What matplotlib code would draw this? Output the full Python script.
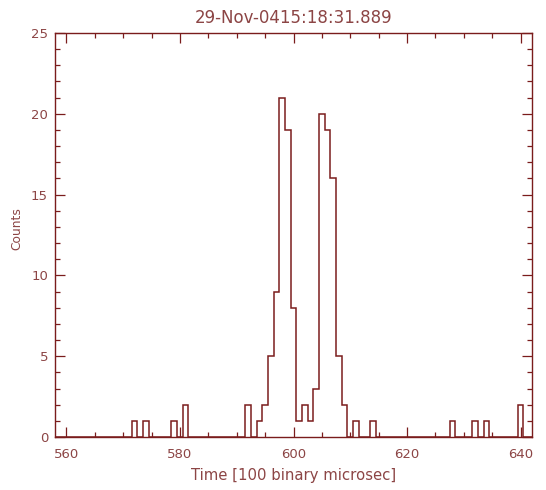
import numpy as np
import matplotlib
matplotlib.use("Agg")
import matplotlib.pyplot as plt
from matplotlib.ticker import MultipleLocator

# Histogram bins (centre of each 1-unit bin) that hold at least one count
time_bins = [572, 574, 579, 581, 592, 594, 595, 596, 597, 598, 599, 600,
             601, 602, 603, 604, 605, 606, 607, 608, 609, 611, 614, 628,
             632, 634, 640]
counts = [1, 1, 1, 2, 2, 1, 2, 5, 9, 21, 19, 8,
          1, 2, 1, 3, 20, 19, 16, 5, 2, 1, 1, 1,
          1, 1, 2]

x_range = (558, 642)
y_range = (0, 25)
x_ticks = [560, 580, 600, 620, 640]
y_ticks = [0, 5, 10, 15, 20, 25]
title = "29-Nov-0415:18:31.889"
x_label = "Time [100 binary microsec]"
y_label = "Counts"

line_color = "#7a1c1c"
text_color = "#8c4545"

plt.rcParams["font.family"] = ["DejaVu Sans"]

# Full histogram over the plotted range, one bin per time unit
centres = np.arange(x_range[0], x_range[1] + 1)
hist = np.zeros(len(centres))
for t, c in zip(time_bins, counts):
    hist[t - x_range[0]] = c
edges = np.append(centres - 0.5, centres[-1] + 0.5)

fig = plt.figure(figsize=(5.46, 4.90), dpi=100)
ax = fig.add_axes([55 / 546, 1 - 437 / 490, (532 - 55) / 546, (437 - 33) / 490])

ax.stairs(hist, edges, color=line_color, linewidth=1.1, baseline=None)

ax.set_xlim(*x_range)
ax.set_ylim(*y_range)
ax.set_xticks(x_ticks)
ax.set_yticks(y_ticks)
ax.xaxis.set_minor_locator(MultipleLocator(5))
ax.yaxis.set_minor_locator(MultipleLocator(1))

for side in ax.spines.values():
    side.set_color(line_color)
    side.set_linewidth(1.0)

ax.tick_params(which="both", direction="in", top=True, right=True,
               color=line_color, width=0.9, labelcolor=text_color,
               labelsize=9.5)
ax.tick_params(which="major", length=7)
ax.tick_params(axis="x", which="major", pad=8)
ax.tick_params(axis="y", which="major", pad=5)
ax.tick_params(which="minor", length=3.5)

ax.set_title(title, color=text_color, fontsize=12, pad=7)
ax.set_xlabel(x_label, color=text_color, fontsize=10.7, labelpad=5)
ax.set_ylabel(y_label, color=text_color, fontsize=8.8)
ax.yaxis.set_label_coords(-0.066, 0.515)

fig.savefig("out.png", dpi=100, facecolor="white")
